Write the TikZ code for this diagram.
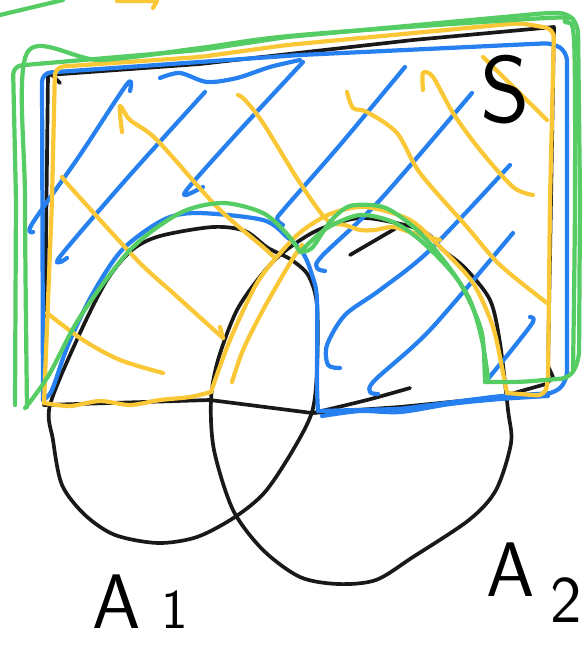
\documentclass[tikz,border=0pt]{standalone}
\usepackage{fontspec}
\usepackage{tikz}
\usetikzlibrary{calc}
\definecolor{penblue}{RGB}{38,128,240}
\definecolor{penyellow}{RGB}{250,200,55}
\definecolor{pengreen}{RGB}{85,205,100}
\tikzset{
  ink/.style={line width=2.4pt, line cap=round, line join=round},
  blackpen/.style={ink, draw=black!90, line width=2.1pt},
  bluepen/.style={ink, draw=penblue},
  yellowpen/.style={ink, draw=penyellow},
  greenpen/.style={ink, draw=pengreen},
  hand/.style={inner sep=0pt, font=\sffamily\fontsize{#1}{#1}\selectfont},
  hand/.default=44
}

\begin{document}
\begin{tikzpicture}[x=0.02cm, y=-0.02cm]
  \useasboundingbox (0,0) rectangle (587,645);

  % black: the set S and the two sets
  \draw[blackpen] (44,405) -- (46,240) -- (48,75) -- (200,64) -- (413,40) -- (554,27)
    -- (551,200) -- (548,366) -- (553,377) -- (546,384) -- (500,397) -- (400,407)
    -- (312,413) -- (210,400) -- cycle;
  \draw[blackpen] (50,73) -- (60,83);
  \draw[blackpen] plot[smooth] coordinates {(313,413) (367,400) (410,388)};
  \draw[blackpen] (350,255) -- (398,227);
  \draw[blackpen] plot[smooth cycle] coordinates {(50,405) (53,440) (62,485) (85,515)
    (115,535) (158,543) (197,537) (235,517) (265,492) (293,450) (312,412) (317,370)
    (317,305) (308,275) (290,259) (268,248) (245,231) (213,227) (160,236) (132,250)
    (107,280) (80,333)};
  \draw[blackpen] plot[smooth cycle] coordinates {(211,400) (214,450) (233,510) (263,550)
    (300,577) (338,584) (376,580) (413,557) (469,520) (496,490) (511,443) (508,410)
    (500,343) (490,300) (465,268) (443,250) (428,234) (405,225) (360,218) (318,230)
    (285,251) (263,273) (237,310) (218,360)};

  % blue: S without A1
  \draw[bluepen, rounded corners=5pt] (43,400) -- (42,73) -- (300,55) -- (553,43)
    -- (567,52) -- (567,380) -- (556,393) -- (500,396) -- (400,409) -- (318,411);
  \draw[bluepen] plot[smooth] coordinates {(318,411) (317,383) (317,300) (312,275)
    (303,253) (287,237) (263,220) (197,213) (163,220) (122,250) (92,295) (68,345)
    (52,390) (43,400)};
  \draw[bluepen] plot[smooth] coordinates {(160,78) (180,73) (207,82) (237,78) (270,67) (300,60)};
  \draw[bluepen] plot[smooth] coordinates {(322,416) (360,411) (400,412) (450,404) (500,399) (548,396)};
  \draw[bluepen] plot[smooth] coordinates {(33,232) (32,224) (80,155) (127,84) (130,91)};
  \draw[bluepen] plot[smooth] coordinates {(67,258) (60,262) (62,254) (130,175) (205,92)};
  \draw[bluepen] plot[smooth] coordinates {(203,187) (186,195) (189,187) (240,130) (303,62)};
  \draw[bluepen] plot[smooth] coordinates {(283,225) (277,219) (285,208) (340,145) (405,67)};
  \draw[bluepen] plot[smooth] coordinates {(325,271) (317,268) (322,256) (380,200) (472,93)};
  \draw[bluepen] plot[smooth] coordinates {(340,368) (328,365) (327,345) (345,315) (380,290)
    (430,250) (510,165)};
  \draw[bluepen] plot[smooth] coordinates {(378,394) (370,392) (375,380) (430,330) (513,233)};
  \draw[bluepen] plot[smooth] coordinates {(487,380) (510,352) (533,322) (530,317)};

  % yellow: S without A2
  \draw[yellowpen, rounded corners=5pt] (507,393) -- (545,396) -- (548,380) -- (550,200)
    -- (554,29) -- (520,23) -- (287,45) -- (200,57) -- (55,67) -- (52,200) -- (44,403);
  \draw[yellowpen] plot[smooth] coordinates {(44,403) (70,406) (100,401) (130,405)
    (160,400) (190,397) (211,392)};
  \draw[yellowpen] plot[smooth] coordinates {(211,392) (230,340) (257,283) (283,250)
    (302,231) (330,214) (365,207) (410,220) (443,250) (473,283) (493,327) (503,373) (507,393)};
  \draw[yellowpen] plot[smooth] coordinates {(232,382) (243,350) (263,310) (290,263) (302,245)};
  \draw[yellowpen] plot[smooth] coordinates {(62,177) (73,190) (137,260) (173,293) (223,338)};
  \draw[yellowpen] (223,338) -- (220,327);
  \draw[yellowpen] plot[smooth] coordinates {(122,132) (120,106) (130,120) (157,140)
    (217,207) (263,247) (275,258)};
  \draw[yellowpen] plot[smooth] coordinates {(238,95) (245,100) (263,123) (300,183)
    (327,220) (345,225) (360,230) (375,230) (393,227) (413,233) (440,240)};
  \draw[yellowpen] plot[smooth] coordinates {(347,92) (353,108) (367,112) (397,133)
    (420,173) (467,227) (500,265) (547,303)};
  \draw[yellowpen] plot[smooth] coordinates {(423,90) (423,73) (433,77) (453,113)
    (480,150) (513,187) (533,195)};
  \draw[yellowpen] (483,57) -- (547,120);
  \draw[yellowpen] plot[smooth] coordinates {(47,313) (83,340) (120,360) (163,373)};
  \draw[yellowpen] (117,1) -- (157,1) -- (153,8);

  % green: S without A1 and A2
  \draw[greenpen, rounded corners=5pt] (485,382) -- (520,382) -- (570,378) -- (579,360)
    -- (580,200) -- (578,25) -- (568,13) -- (547,13) -- (287,37) -- (200,50) -- (13,66)
    -- (16,200) -- (15,405);
  \draw[greenpen] plot[smooth] coordinates {(27,407) (25,200) (27,53) (100,60) (200,48)
    (300,35) (547,18) (565,22) (574,40) (575,200) (573,370)};
  \draw[greenpen] plot[smooth] coordinates {(485,382) (483,340) (477,318) (460,283)
    (433,247) (410,224) (383,207) (350,206) (330,222) (312,248) (300,252)};
  \draw[greenpen] plot[smooth] coordinates {(300,252) (287,234) (263,213) (223,203)
    (180,213) (130,250) (80,317) (50,373) (33,398) (25,408)};
  \draw[greenpen] plot[smooth] coordinates {(302,250) (327,228) (360,215) (393,222)
    (420,240) (450,270) (470,300) (482,340) (488,378)};
  \draw[greenpen] (0,15) -- (63,0);

  % labels
  \node[hand=54] (labS) at (505,90) {S};
  \node[hand, anchor=base west] (labAone) at (92,628) {A\hspace{12pt}{\fontsize{32}{32}\selectfont 1}};
  \node[hand, anchor=base west] (labAtwo) at (486,596) {A\hspace{9pt}\raisebox{-15pt}{\fontsize{38}{38}\selectfont 2}};
\end{tikzpicture}
\end{document}
